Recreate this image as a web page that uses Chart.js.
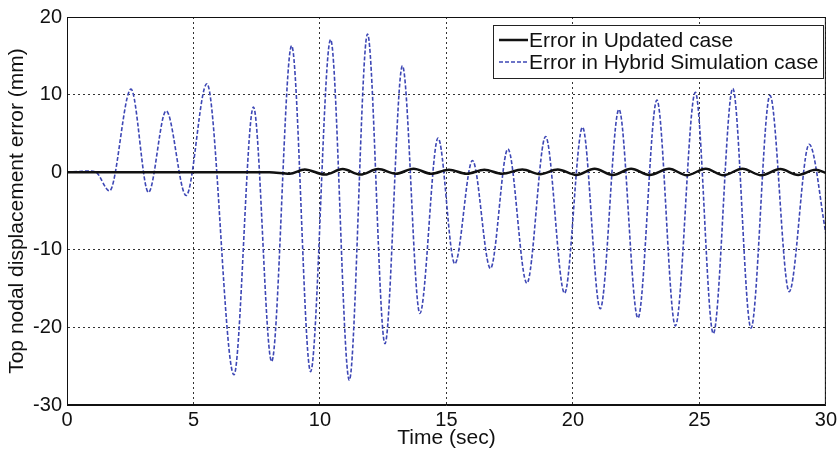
<!DOCTYPE html>
<html>
<head>
<meta charset="utf-8">
<script src="https://cdn.jsdelivr.net/npm/chart.js@4"></script>
<style>
  html, body { margin: 0; padding: 0; background: #fff; }
  #wrap { width: 840px; height: 455px; }
</style>
</head>
<body>
<div id="wrap"><canvas id="errChart" width="840" height="455"></canvas></div>
<script>
// time (sec) / error (mm)
let updTime = [0, 8, 8.8, 9.4, 10.2, 10.9, 11.6, 12.3, 13.0, 13.7, 14.4, 15.1, 15.8, 16.5, 17.2, 18.0, 18.7, 19.4, 20.13, 20.86, 21.58, 22.3, 23.03, 23.8, 24.5, 25.25, 25.95, 26.7, 27.45, 28.2, 28.9, 29.6, 30]
let updError = [0, 0, -0.2, 0.35, -0.3, 0.4, -0.3, 0.4, -0.2, 0.45, -0.2, 0.3, -0.2, 0.3, -0.2, 0.35, -0.25, 0.35, -0.35, 0.45, -0.35, 0.45, -0.35, 0.45, -0.4, 0.45, -0.4, 0.45, -0.4, 0.4, -0.35, 0.3, -0.1]

let hsTime = [0, 0.5, 0.9, 1.15, 1.68, 2.53, 3.22, 3.92, 4.71, 5.53, 6.6, 7.37, 8.09, 8.88, 9.63, 10.42, 11.16, 11.88, 12.57, 13.26, 13.95, 14.67, 15.33, 16.03, 16.74, 17.43, 18.18, 18.92, 19.67, 20.38, 21.08, 21.82, 22.57, 23.32, 24.05, 24.84, 25.55, 26.32, 27.04, 27.79, 28.55, 29.34, 30]
let hsError = [0, 0.1, 0.15, 0, -2.4, 10.7, -2.6, 7.9, -3.0, 11.4, -26.1, 8.4, -24.4, 16.3, -25.7, 17.1, -26.8, 17.8, -22.1, 13.7, -18.2, 4.4, -11.8, 1.5, -12.4, 3.0, -14.3, 4.6, -15.6, 5.8, -17.6, 8.1, -18.8, 9.3, -19.8, 10.3, -20.8, 10.8, -20.1, 9.9, -15.4, 3.6, -7.9]

let seriesNames = ['Error in Updated case', 'Error in Hybrid Simulation case']
let xTicks = [0, 5, 10, 15, 20, 25, 30]
let yTicks = [-30, -20, -10, 0, 10, 20]

const FONT = "'Liberation Sans', Arial, sans-serif"

function pts(xs, ys) {
    return xs.map((x, i) => ({ x: x, y: ys[i] }))
}

// legend box inside the plot, top right (like matlab)
const boxLegend = {
    id: 'boxLegend',
    afterDraw(chart) {
        const ctx = chart.ctx
        const a = chart.chartArea
        ctx.save()
        // frame around plot
        ctx.strokeStyle = '#111'
        ctx.lineWidth = 1
        ctx.setLineDash([])
        ctx.strokeRect(a.left + 0.5, a.top + 0.5, a.right - a.left - 1, a.bottom - a.top - 1)

        const bx = 493, by = 25, bw = 330, bh = 53
        ctx.fillStyle = '#fff'
        ctx.fillRect(bx, by, bw, bh)
        ctx.strokeStyle = '#222'
        ctx.strokeRect(bx + 0.5, by + 0.5, bw, bh)
        ctx.font = '21px ' + FONT
        ctx.textBaseline = 'middle'
        chart.data.datasets.forEach((ds, i) => {
            const y = by + 15 + i * 22
            ctx.strokeStyle = ds.borderColor
            ctx.lineWidth = ds.borderWidth
            ctx.setLineDash(ds.borderDash || [])
            ctx.beginPath()
            ctx.moveTo(bx + 6, y)
            ctx.lineTo(bx + 35, y)
            ctx.stroke()
            ctx.setLineDash([])
            ctx.fillStyle = '#111'
            ctx.fillText(ds.label, bx + 36, y + 1)
        })
        ctx.restore()
    }
}

let ctx = document.getElementById('errChart').getContext('2d')
let errChart = new Chart(ctx, {
    type: 'line',
    data: {
        datasets: [{
            label: seriesNames[0],
            data: pts(updTime, updError),
            borderColor: '#111111',
            borderWidth: 2.5,
            pointRadius: 0,
            cubicInterpolationMode: 'monotone'
        }, {
            label: seriesNames[1],
            data: pts(hsTime, hsError),
            borderColor: '#3d47b5',
            borderWidth: 1.6,
            borderDash: [4, 2],
            pointRadius: 0,
            cubicInterpolationMode: 'monotone'
        }]
    },
    options: {
        responsive: false,
        animation: false,
        layout: { padding: { top: 16, right: 13, left: 0, bottom: 0 } },
        plugins: {
            legend: { display: false },
            tooltip: { enabled: false }
        },
        scales: {
            x: {
                type: 'linear',
                min: 0,
                max: 30,
                afterBuildTicks: (s) => { s.ticks = xTicks.map(v => ({ value: v })) },
                afterFit: (s) => { s.height = 50 },
                grid: { color: '#333', lineWidth: 1, drawTicks: false },
                border: { display: true, color: '#111', dash: [2, 3] },
                ticks: { color: '#111', padding: 3, maxRotation: 0, font: { family: FONT, size: 20 } },
                title: { display: true, text: 'Time (sec)', color: '#111', padding: { top: 0, bottom: 4 }, font: { family: FONT, size: 21 } }
            },
            y: {
                min: -30,
                max: 20,
                afterBuildTicks: (s) => { s.ticks = yTicks.map(v => ({ value: v })) },
                afterFit: (s) => { s.width = 67 },
                grid: { color: '#333', lineWidth: 1, drawTicks: false },
                border: { display: true, color: '#111', dash: [2, 3] },
                ticks: { color: '#111', padding: 5, font: { family: FONT, size: 20 } },
                title: { display: true, text: 'Top nodal displacement error (mm)', color: '#111', padding: { top: 5, bottom: 0 }, font: { family: FONT, size: 21 } }
            }
        }
    },
    plugins: [boxLegend]
})
</script>
</body>
</html>
